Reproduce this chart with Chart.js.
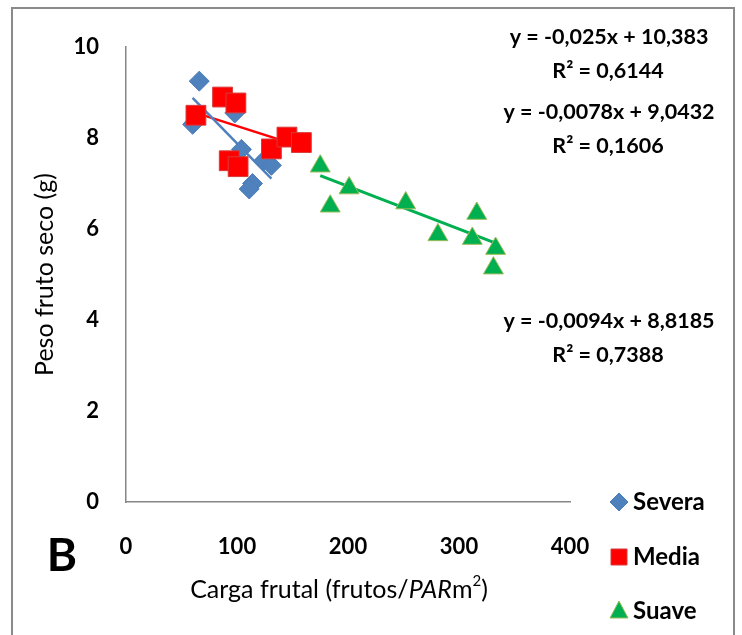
<!DOCTYPE html>
<html>
<head>
<meta charset="utf-8">
<script src="https://cdn.jsdelivr.net/npm/chart.js@4.4.0/dist/chart.umd.min.js"></script>
<style>
  body { margin: 0; background: #fff; }
  canvas { display: block; }
</style>
</head>
<body>
<canvas id="pesoChart" width="742" height="635"></canvas>
<script>
// values
const severaX = [60, 66, 98, 104, 124, 131, 114, 111];
const severaY = [8.3, 9.25, 8.55, 7.75, 7.5, 7.4, 7.0, 6.88];

const mediaX = [63, 87, 99, 93, 101, 131, 145, 158];
const mediaY = [8.5, 8.9, 8.77, 7.5, 7.37, 7.76, 8.02, 7.9];

const suaveX = [175, 201, 184, 252, 281, 316, 312, 333, 331];
const suaveY = [7.38, 6.9, 6.5, 6.57, 5.87, 6.34, 5.79, 5.57, 5.14];

const seriesNames = ['Severa', 'Media', 'Suave'];
const trendSlope = [-0.025, -0.0078, -0.0094];
const trendIntercept = [10.383, 9.0432, 8.8185];
const trendR2 = [0.6144, 0.1606, 0.7388];

const xTicks = [0, 100, 200, 300, 400];
const yTicks = [0, 2, 4, 6, 8, 10];

const FONT = 'Lato, "Open Sans", sans-serif';
Chart.defaults.font.family = FONT;
Chart.defaults.color = '#000';

function toPoints(xs, ys) {
  return xs.map((x, i) => ({ x: x, y: ys[i] }));
}

function trendPoints(xs, i) {
  const lo = Math.min(...xs);
  const hi = Math.max(...xs);
  return [
    { x: lo, y: trendSlope[i] * lo + trendIntercept[i] },
    { x: hi, y: trendSlope[i] * hi + trendIntercept[i] }
  ];
}

function comma(n) {
  return String(n).replace('.', ',');
}

// border, equations, "B", legend and x title
const extras = {
  id: 'extras',
  beforeDraw(chart) {
    const ctx = chart.ctx;
    ctx.save();
    ctx.fillStyle = '#fff';
    ctx.fillRect(0, 0, chart.width, chart.height);
    ctx.strokeStyle = '#8a8a8a';
    ctx.lineWidth = 2;
    ctx.strokeRect(12, 8, 722, 640);
    ctx.restore();
  },
  afterDraw(chart) {
    const ctx = chart.ctx;
    ctx.save();
    ctx.fillStyle = '#000';
    ctx.textAlign = 'center';
    ctx.textBaseline = 'middle';

    // trendline equations
    ctx.font = 'bold 21.5px ' + FONT;
    const eqY = [[37, 71], [112, 146], [321, 355]];
    for (let i = 0; i < 3; i++) {
      ctx.fillText('y = ' + comma(trendSlope[i]) + 'x + ' + comma(trendIntercept[i]), 609, eqY[i][0]);
      ctx.fillText('R² = ' + comma(trendR2[i]), 608, eqY[i][1]);
    }

    // panel letter
    ctx.font = 'bold 46px ' + FONT;
    ctx.fillText('B', 62, 556);

    // x axis title with italic PAR
    const parts = [
      { t: 'Carga frutal (frutos/', f: '25px ' + FONT, dy: 0 },
      { t: 'PAR', f: 'italic 25px ' + FONT, dy: 0 },
      { t: 'm', f: '25px ' + FONT, dy: 0 },
      { t: '2', f: '15px ' + FONT, dy: -9 },
      { t: ')', f: '25px ' + FONT, dy: 0 }
    ];
    let total = 0;
    parts.forEach(p => { ctx.font = p.f; total += ctx.measureText(p.t).width; });
    let x = 339 - total / 2;
    ctx.textAlign = 'left';
    parts.forEach(p => {
      ctx.font = p.f;
      ctx.fillText(p.t, x, 590 + p.dy);
      x += ctx.measureText(p.t).width;
    });

    // legend
    const legY = [502, 557, 611];
    ctx.font = 'bold 24px ' + FONT;
    for (let i = 0; i < 3; i++) {
      const ds = chart.data.datasets[i];
      const cx = 619, cy = legY[i];
      ctx.fillStyle = ds.backgroundColor;
      ctx.strokeStyle = ds.borderColor;
      ctx.lineWidth = 1;
      ctx.beginPath();
      if (ds.pointStyle === 'rectRot') {
        ctx.moveTo(cx, cy - 9); ctx.lineTo(cx + 9, cy); ctx.lineTo(cx, cy + 9); ctx.lineTo(cx - 9, cy);
      } else if (ds.pointStyle === 'rect') {
        ctx.rect(cx - 8, cy - 8, 16, 16);
      } else {
        ctx.moveTo(cx, cy - 10); ctx.lineTo(cx + 9, cy + 7); ctx.lineTo(cx - 9, cy + 7);
      }
      ctx.closePath();
      ctx.fill();
      ctx.stroke();
      ctx.fillStyle = '#000';
      ctx.fillText(ds.label, 633, cy);
    }
    ctx.restore();
  }
};

new Chart(document.getElementById('pesoChart'), {
  type: 'scatter',
  data: {
    datasets: [
      {
        label: seriesNames[0],
        data: toPoints(severaX, severaY),
        pointStyle: 'rectRot',
        pointRadius: 10,
        backgroundColor: '#4F81BD',
        borderColor: '#4A7EBB',
        borderWidth: 1,
        order: 3
      },
      {
        label: seriesNames[1],
        data: toPoints(mediaX, mediaY),
        pointStyle: 'rect',
        pointRadius: 14,
        backgroundColor: '#FF0000',
        borderColor: '#D83A3A',
        borderWidth: 1,
        order: 2
      },
      {
        label: seriesNames[2],
        data: toPoints(suaveX, suaveY),
        pointStyle: 'triangle',
        pointRadius: 11.5,
        backgroundColor: '#00B050',
        borderColor: '#9BBB59',
        borderWidth: 1,
        order: 1
      },
      {
        label: 'trend ' + seriesNames[0],
        type: 'line',
        data: trendPoints(severaX, 0),
        borderColor: '#4F81BD',
        borderWidth: 2.5,
        pointRadius: 0,
        order: 10
      },
      {
        label: 'trend ' + seriesNames[1],
        type: 'line',
        data: trendPoints(mediaX, 1),
        borderColor: '#FF0000',
        borderWidth: 2.5,
        pointRadius: 0,
        order: 10
      },
      {
        label: 'trend ' + seriesNames[2],
        type: 'line',
        data: trendPoints(suaveX, 2),
        borderColor: '#00B050',
        borderWidth: 3,
        pointRadius: 0,
        order: 10
      }
    ]
  },
  options: {
    responsive: false,
    animation: false,
    layout: { padding: { left: 0, right: 172, top: 47, bottom: 0 } },
    plugins: {
      legend: { display: false },
      tooltip: { enabled: false }
    },
    scales: {
      x: {
        type: 'linear',
        min: xTicks[0],
        max: xTicks[xTicks.length - 1],
        afterBuildTicks: s => { s.ticks = xTicks.map(v => ({ value: v })); },
        afterFit: s => { s.height = 133; },
        ticks: { padding: 32, font: { size: 22, weight: 'bold' } },
        grid: { display: false, drawTicks: false },
        border: { color: '#868686', width: 1.5 }
      },
      y: {
        min: yTicks[0],
        max: yTicks[yTicks.length - 1],
        afterBuildTicks: s => { s.ticks = yTicks.map(v => ({ value: v })); },
        afterFit: s => { s.width = 126; },
        ticks: { padding: 27, font: { size: 22, weight: 'bold' } },
        grid: { display: false, drawTicks: false },
        border: { color: '#868686', width: 1.5 },
        title: {
          display: true,
          text: 'Peso fruto seco (g)',
          font: { size: 25 },
          padding: { top: 30, bottom: 0 }
        }
      }
    }
  },
  plugins: [extras]
});
</script>
</body>
</html>
